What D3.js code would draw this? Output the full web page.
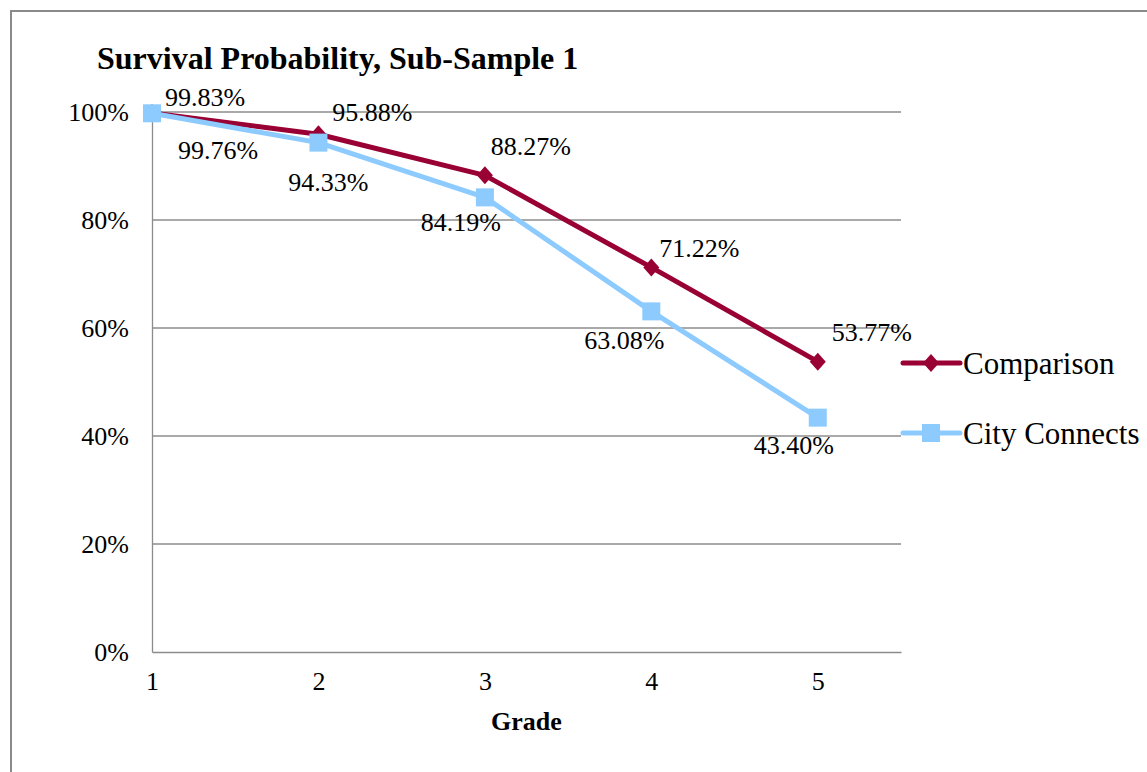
<!DOCTYPE html>
<html>
<head>
<meta charset="utf-8">
<script src="https://cdn.jsdelivr.net/npm/d3@7"></script>
<style>
  html, body { margin: 0; padding: 0; background: #fff; }
  svg { display: block; }
  svg text { font-family: "Liberation Serif", "Times New Roman", serif; }
</style>
</head>
<body>
<svg id="chart" width="1147" height="772"></svg>
<script>
// Survival probability by grade for the two groups
const grades = [1, 2, 3, 4, 5];
const comparison = [99.83, 95.88, 88.27, 71.22, 53.77];
const cityConnects = [99.76, 94.33, 84.19, 63.08, 43.40];
const yTicks = [0, 20, 40, 60, 80, 100];
const seriesNames = ["Comparison", "City Connects"];

// Label placement (offsets from each point, in pixels)
const comparisonLabelOffsets = [[53, -16], [54, -22], [46, -29], [48, -20], [54, -30]];
const cityLabelOffsets = [[66, 37], [10, 39], [-24, 25], [-27, 29], [-24, 27]];

const FONT = "Liberation Serif, Times New Roman, serif";
const svg = d3.select("#chart");
const colors = { comp: "#990033", city: "#8DCBFF", grid: "#8c8c8c" };

const plot = { left: 152, right: 901, top: 112, bottom: 652 };

const x = d3.scaleLinear().domain([1, 5.5]).range([plot.left, plot.right]);
const y = d3.scaleLinear().domain([0, 100]).range([plot.bottom, plot.top]);

// Outer frame (left and top edges)
svg.append("path")
  .attr("d", "M11,772 L11,11 L1147,11")
  .attr("fill", "none").attr("stroke", "#8a8a8a").attr("stroke-width", 2);

// Gridlines
svg.append("g").selectAll("line").data(yTicks.filter(d => d > 0)).join("line")
  .attr("x1", plot.left).attr("x2", plot.right)
  .attr("y1", d => y(d)).attr("y2", d => y(d))
  .attr("stroke", colors.grid).attr("stroke-width", 1.3);

// Axes
const yAxis = d3.axisLeft(y).tickValues(yTicks).tickFormat(d => d + "%").tickSize(0).tickPadding(23);
const yg = svg.append("g").attr("transform", `translate(${plot.left},0)`).call(yAxis)
  .attr("font-family", FONT).attr("font-size", 26);
yg.select(".domain").attr("stroke", colors.grid).attr("stroke-width", 1.3);
yg.selectAll("text").attr("fill", "#000");

const xAxis = d3.axisBottom(x).tickValues(grades).tickFormat(d3.format("d")).tickSize(0).tickPadding(20);
const xg = svg.append("g").attr("transform", `translate(0,${plot.bottom})`).call(xAxis)
  .attr("font-family", FONT).attr("font-size", 26);
xg.select(".domain").attr("stroke", colors.grid).attr("stroke-width", 1.3);
xg.selectAll("text").attr("fill", "#000");

// Axis title
svg.append("text")
  .attr("x", (plot.left + plot.right) / 2).attr("y", 730)
  .attr("text-anchor", "middle").attr("font-family", FONT)
  .attr("font-size", 26).attr("font-weight", "bold")
  .text("Grade");

// Chart title
svg.append("text")
  .attr("x", 97).attr("y", 69)
  .attr("font-family", FONT).attr("font-size", 32).attr("font-weight", "bold")
  .text("Survival Probability, Sub-Sample 1");

const line = d3.line().x((d, i) => x(grades[i])).y(d => y(d));

function drawSeries(values, color, markerFn, offsets) {
  const g = svg.append("g");
  g.append("path").datum(values)
    .attr("d", line).attr("fill", "none")
    .attr("stroke", color).attr("stroke-width", 5).attr("stroke-linejoin", "round");
  markerFn(g.selectAll(".m").data(values).join("g")
    .attr("transform", (d, i) => `translate(${x(grades[i])},${y(d)})`));
  g.selectAll(".lbl").data(values).join("text")
    .attr("x", (d, i) => x(grades[i]) + offsets[i][0])
    .attr("y", (d, i) => y(d) + offsets[i][1])
    .attr("dy", "0.35em")
    .attr("text-anchor", "middle")
    .attr("font-family", FONT).attr("font-size", 26)
    .text(d => d.toFixed(2) + "%");
}

const drawDiamond = sel => sel.append("path")
  .attr("d", "M0,-9 L8,0 L0,9 L-8,0 Z")
  .attr("fill", colors.comp);
const drawSquare = sel => sel.append("rect")
  .attr("x", -9).attr("y", -9).attr("width", 18).attr("height", 18)
  .attr("fill", colors.city);

drawSeries(comparison, colors.comp, drawDiamond, comparisonLabelOffsets);
drawSeries(cityConnects, colors.city, drawSquare, cityLabelOffsets);

// Legend
const legend = [
  { name: seriesNames[0], color: colors.comp, marker: drawDiamond, y: 363 },
  { name: seriesNames[1], color: colors.city, marker: drawSquare, y: 433 }
];
legend.forEach(item => {
  const g = svg.append("g");
  g.append("line").attr("x1", 903).attr("x2", 960).attr("y1", item.y).attr("y2", item.y)
    .attr("stroke", item.color).attr("stroke-width", 5).attr("stroke-linecap", "round");
  item.marker(g.append("g").attr("transform", `translate(931,${item.y})`));
  g.append("text").attr("x", 963).attr("y", item.y).attr("dy", "0.35em")
    .attr("font-family", FONT).attr("font-size", 31).text(item.name);
});
</script>
</body>
</html>
